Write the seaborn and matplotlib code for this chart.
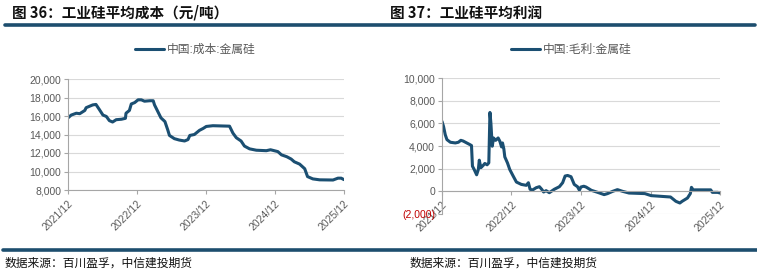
import matplotlib
matplotlib.use("Agg")
import matplotlib.pyplot as plt
import matplotlib.ticker as mticker
import matplotlib.dates as mdates
from matplotlib.lines import Line2D
import pandas as pd
import seaborn as sns

# ---------------- data ----------------
cost_dates = ["2021-12-01", "2021-12-18", "2022-01-14", "2022-02-01", "2022-02-28", "2022-03-07",
              "2022-04-11", "2022-04-28", "2022-05-16", "2022-06-04", "2022-06-22", "2022-07-08",
              "2022-07-25", "2022-08-13", "2022-09-10", "2022-10-01", "2022-10-04", "2022-10-22",
              "2022-11-01", "2022-11-19", "2022-12-07", "2022-12-24", "2023-01-10", "2023-02-07",
              "2023-02-25", "2023-03-04", "2023-03-21", "2023-04-07", "2023-04-28", "2023-05-13",
              "2023-05-22", "2023-06-17", "2023-07-13", "2023-08-10", "2023-08-28", "2023-09-07",
              "2023-10-01", "2023-10-28", "2023-11-16", "2023-12-03", "2024-01-07", "2024-04-04",
              "2024-04-22", "2024-05-10", "2024-06-04", "2024-06-22", "2024-07-19", "2024-08-24",
              "2024-10-16", "2024-11-07", "2024-12-16", "2025-01-04", "2025-02-01", "2025-02-24",
              "2025-03-13", "2025-04-10", "2025-05-07", "2025-05-22", "2025-06-19", "2025-07-25",
              "2025-10-04", "2025-10-30", "2025-11-16", "2025-12-01"]
cost_values = [15800, 16100, 16300, 16250, 16600, 16900,
               17200, 17250, 16700, 16100, 15950, 15500,
               15350, 15600, 15650, 15750, 16300, 16600,
               17300, 17450, 17750, 17750, 17600, 17650,
               17650, 17200, 16500, 15800, 15400, 14500,
               13900, 13550, 13400, 13300, 13450, 13900,
               14000, 14450, 14650, 14870, 14950, 14900,
               14150, 13650, 13300, 12750, 12450, 12300,
               12250, 12350, 12150, 11800, 11600, 11350,
               11050, 10800, 10300, 9450, 9200, 9100,
               9080, 9280, 9280, 9120]

profit_dates = ["2021-12-01", "2021-12-09", "2021-12-18", "2021-12-27", "2022-01-14", "2022-02-09",
                "2022-02-25", "2022-03-10", "2022-03-22", "2022-04-10", "2022-04-27", "2022-05-05",
                "2022-05-10", "2022-05-19", "2022-06-01", "2022-06-10", "2022-06-15", "2022-06-23",
                "2022-07-05", "2022-07-14", "2022-07-26", "2022-08-04", "2022-08-10", "2022-08-15",
                "2022-08-22", "2022-08-29", "2022-09-09", "2022-09-22", "2022-10-01", "2022-10-10",
                "2022-10-15", "2022-10-22", "2022-10-27", "2022-11-10", "2022-11-22", "2022-12-10",
                "2022-12-27", "2023-01-22", "2023-02-17", "2023-02-28", "2023-03-09", "2023-03-22",
                "2023-04-10", "2023-04-27", "2023-05-09", "2023-05-19", "2023-06-01", "2023-06-18",
                "2023-07-14", "2023-08-10", "2023-08-27", "2023-09-09", "2023-09-22", "2023-10-10",
                "2023-10-27", "2023-11-13", "2023-11-23", "2023-12-01", "2023-12-16", "2023-12-28",
                "2024-01-25", "2024-02-27", "2024-04-01", "2024-04-19", "2024-05-16", "2024-06-10",
                "2024-07-07", "2024-08-10", "2024-11-01", "2024-12-04", "2025-03-16", "2025-04-13",
                "2025-05-04", "2025-05-16", "2025-06-13", "2025-06-28", "2025-07-04", "2025-07-13",
                "2025-08-22", "2025-10-13", "2025-10-22", "2025-11-19", "2025-12-01"]
profit_values = [6170, 5730, 5000, 4560, 4330, 4270,
                 4330, 4500, 4440, 4270, 4120, 4040,
                 2220, 1930, 1460, 1930, 2750, 2080,
                 2280, 2460, 2340, 2510, 6960, 6020,
                 3980, 4710, 4500, 4710, 4420, 3920,
                 4270, 3740, 3040, 2510, 1930, 1350,
                 820, 610, 530, 760, 180, 120,
                 320, 410, 180, -60, 60, -120,
                 180, 410, 760, 1350, 1400, 1290,
                 610, 410, 100, 380, 450, 380,
                 90, -90, -290, -200, 0, 150,
                 0, -150, -200, -380, -500, -880,
                 -1030, -880, -590, -200, 350, 130,
                 130, 130, -90, -90, -150]

x_ticks = ["2021-12-01", "2022-12-01", "2023-12-01", "2024-12-01", "2025-12-01"]
cost_yticks = [8000, 10000, 12000, 14000, 16000, 18000, 20000]
profit_yticks = [-2000, 0, 2000, 4000, 6000, 8000, 10000]

title_left = "图 36：工业硅平均成本（元/吨）"
title_right = "图 37：工业硅平均利润"
legend_left = "中国:成本:金属硅"
legend_right = "中国:毛利:金属硅"
source_text = "数据来源：百川盈孚，中信建投期货"

# ---------------- style ----------------
sns.set_theme(style="white")
plt.rcParams["font.family"] = ["Liberation Sans", "Noto Sans CJK SC", "DejaVu Sans"]

LINE = "#1b4f72"
BAR = "#1d4e6e"
GRAY_TXT = "#595959"
GRID = "#d9d9d9"
SPINE = "#a6a6a6"

W, H = 757, 275
fig = plt.figure(figsize=(W / 100, H / 100), dpi=100)


def fx(px):
    return px / W


def fy(py):
    return 1 - py / H


df_cost = pd.DataFrame({"date": pd.to_datetime(cost_dates), "value": cost_values})
df_profit = pd.DataFrame({"date": pd.to_datetime(profit_dates), "value": profit_values})
xt = pd.to_datetime(x_ticks)


def fmt_num(v, pos=None):
    if v < 0:
        return "({:,.0f})".format(-v)
    return "{:,.0f}".format(v)


def style_axis(ax, yticks):
    ax.set_xlim(xt[0], xt[-1])
    ax.set_ylim(yticks[0], yticks[-1])
    ax.set_yticks(yticks)
    ax.yaxis.set_major_formatter(mticker.FuncFormatter(fmt_num))
    ax.set_xticks(xt)
    ax.xaxis.set_major_formatter(mdates.DateFormatter("%Y/%m"))
    ax.grid(axis="y", color=GRID, linewidth=0.8)
    ax.grid(axis="x", visible=False)
    for s in ["top", "right"]:
        ax.spines[s].set_visible(False)
    for s in ["left", "bottom"]:
        ax.spines[s].set_color(SPINE)
        ax.spines[s].set_linewidth(0.8)
    ax.tick_params(axis="both", which="major", length=3, width=0.8, color=SPINE,
                   labelsize=7.5, labelcolor=GRAY_TXT, direction="out", pad=2, left=True, bottom=True)
    ax.tick_params(axis="x", labelrotation=45, pad=3)
    ax.set_xlabel("")
    ax.set_ylabel("")


def align_xlabels(ax):
    for lab in ax.get_xticklabels():
        lab.set_ha("right")
        lab.set_va("top")
        lab.set_rotation_mode("anchor")


# Left chart
ax1 = fig.add_axes([fx(68), fy(190), fx(344) - fx(68), fy(79) - fy(190)])
sns.lineplot(data=df_cost, x="date", y="value", ax=ax1, color=LINE, linewidth=2.2, legend=False)
style_axis(ax1, cost_yticks)

# Right chart
ax2 = fig.add_axes([fx(442), fy(214), fx(720) - fx(442), fy(78) - fy(214)])
sns.lineplot(data=df_profit, x="date", y="value", ax=ax2, color=LINE, linewidth=2.2, legend=False)
style_axis(ax2, profit_yticks)
ax2.spines["bottom"].set_position(("data", 0))
ax2.tick_params(axis="x", labelrotation=45, pad=3)

fig.canvas.draw()
align_xlabels(ax1)
align_xlabels(ax2)
for lab in ax2.get_yticklabels():
    if lab.get_text().startswith("("):
        lab.set_color("#c00000")

# Legends
for txt, cx in [(legend_left, 195), (legend_right, 571)]:
    h = Line2D([], [], color=LINE, linewidth=2.2)
    fig.legend([h], [txt], loc="center", bbox_to_anchor=(fx(cx), fy(50)), frameon=False,
               fontsize=8.5, handlelength=2.5, handletextpad=0.2, labelcolor=GRAY_TXT)

# Titles
fig.text(fx(12), fy(13), title_left, fontsize=10.5, fontweight="bold", va="center", ha="left",
         color="#111111", family=["Noto Sans CJK SC"])
fig.text(fx(390), fy(13), title_right, fontsize=10.5, fontweight="bold", va="center", ha="left",
         color="#111111", family=["Noto Sans CJK SC"])

# Rules
fig.add_artist(Line2D([fx(5), fx(755)], [fy(24.5), fy(24.5)], color=BAR, linewidth=2.6))
fig.add_artist(Line2D([fx(3), fx(757)], [fy(249.5), fy(249.5)], color=BAR, linewidth=2.6))

# Sources
fig.text(fx(5), fy(263), source_text, fontsize=8.5, va="center", ha="left", color="#111111",
         family=["Noto Sans CJK SC"])
fig.text(fx(410), fy(263), source_text, fontsize=8.5, va="center", ha="left", color="#111111",
         family=["Noto Sans CJK SC"])

fig.savefig("out.png", dpi=100)
